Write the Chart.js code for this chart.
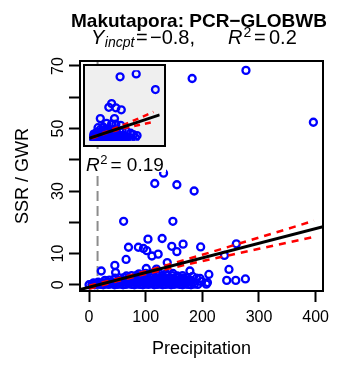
<!DOCTYPE html>
<html>
<head>
<meta charset="utf-8">
<script src="https://cdn.jsdelivr.net/npm/chart.js@4.4.0/dist/chart.umd.min.js"></script>
<style>
  html, body { margin: 0; padding: 0; background: #fff; }
  #wrap { position: relative; width: 337px; height: 365px; }
  #main { position: absolute; left: 0; top: 0; }
  #inset { position: absolute; left: 83px; top: 64px; }
</style>
</head>
<body>
<div id="wrap">
  <canvas id="main" width="337" height="365"></canvas>
  <canvas id="inset" width="83" height="83"></canvas>
</div>
<script>
// --- data ---
const precipitation = [
  182, 277, 396, 131.5, 116, 155, 185.5, 61, 148,
  104, 129, 166, 69.6, 87, 96, 102, 146, 155, 197, 260, 239, 65.4, 138, 122, 111,
  21.5, 45.5, 46.8, 178, 247, 211.5, 196, 209, 243, 259, 276, 101, 119, 167.6, 182.7, 189.8, 198.6, 207,
  0, 5, 10, 15, 20, 25, 30, 35, 40, 45, 50, 55, 60, 65, 70, 75, 80, 85, 90, 95, 100,
  105, 110, 115, 120, 125, 130, 135, 140, 145, 150, 155, 160, 165, 170, 175, 180, 186, 192,
  8, 16, 24, 32, 40, 48, 56, 64, 72, 80, 88, 96, 104, 112, 120, 128, 136, 144, 152, 160, 168, 176, 184,
  28, 36, 44, 52, 60, 68, 76, 84, 92, 100, 108, 116, 124, 132, 140, 148, 156, 164, 172, 180,
  46, 54, 62, 70, 78, 86, 94, 102, 110, 118, 126, 134, 142, 150, 158, 166, 174,
  66, 75, 84, 93, 102, 111, 120, 129, 138, 147, 156, 165,
  88, 100, 112, 124, 136, 148
];
const ssrGwr = [
  66, 68.6, 52, 35.7, 32.4, 32, 30, 20.3, 20.3,
  14.6, 14.8, 13, 12, 12, 11.6, 10.9, 12.3, 10.6, 12.1, 13.1, 9.4, 8.1, 7.1, 9.8, 9.2,
  4.4, 6.2, 3.9, 4.4, 4.9, 3.3, 2, 0.7, 1.4, 1.4, 1.85, 5.2, 5.0, 1.6, 2.65, 2.1, 1.0, 0.2,
  0.0, 0.1, 0.0, 0.2, 0.1, 0.0, 0.2, 0.1, 0.3, 0.0, 0.1, 0.2, 0.0, 0.1, 0.3, 0.1, 0.0, 0.2, 0.1, 0.0, 0.2,
  0.1, 0.3, 0.0, 0.1, 0.2, 0.0, 0.1, 0.2, 0.0, 0.1, 0.3, 0.1, 0.0, 0.2, 0.1, 0.0, 0.2, 0.1,
  0.6, 0.8, 0.7, 0.9, 0.8, 0.7, 0.9, 0.8, 0.6, 0.9, 0.8, 0.7, 0.9, 0.8, 0.7, 0.9, 0.8, 0.6, 0.9, 0.8, 0.7, 0.9, 0.8,
  1.4, 1.5, 1.6, 1.4, 1.5, 1.6, 1.4, 1.5, 1.6, 1.5, 1.4, 1.6, 1.5, 1.4, 1.6, 1.5, 1.4, 1.6, 1.5, 1.4,
  2.1, 2.2, 2.3, 2.2, 2.1, 2.3, 2.2, 2.1, 2.3, 2.2, 2.1, 2.3, 2.2, 2.1, 2.3, 2.2, 2.1,
  2.8, 2.9, 3.0, 2.9, 2.8, 3.0, 2.9, 2.8, 3.0, 2.9, 2.8, 2.9,
  3.5, 3.6, 3.7, 3.6, 3.5, 3.6
];

// regression line and 95% band
const fitX = [-16, 413];
const fitY = [-1.55, 18.6];
const ciX = [0, 50, 100, 150, 200, 250, 300, 350, 397];
const ciUpper = [-0.3, 1.95, 4.35, 6.95, 9.6, 12.35, 15.1, 17.85, 20.5];
const ciLower = [-1.3, 1.15, 3.45, 5.55, 7.6, 9.55, 11.5, 13.45, 15.3];
const cutoffX = 15;

// inset
const insetPrecip = [
  171.6, 269.9, 387.2, 120, 102.9, 145.8, 178.9, 51.2, 137.5, 89, 120, 145.8, 175.3,
  37.2, 68.3, 97.7, 132.3, 184, 209.9, 235.7, 252.8, 275, 11.4, 46, 80.7, 114.8, 149.4,
  3.1, 29, 54.8, 80.7, 106.5, 132.3, 158.2, 184, 209.9,
  0, 20, 40, 60, 80, 100, 120, 140, 160, 180, 200,
  10, 30, 50, 70, 90, 110, 130, 150, 170, 190, 215, 240, 265,
  20, 45, 70, 95, 120, 145, 170, 195,
  30, 60, 90, 120, 150,
  50, 80, 110
];
const insetSsr = [
  64.8, 67.8, 51.5, 36.8, 32.9, 32.4, 30.3, 21.1, 21.1, 16.1, 15.5, 15.2, 14.0,
  11.6, 12.3, 10.2, 9.6, 8.7, 7.9, 5.8, 4.3, 3.4, 4.9, 5.8, 5.8, 4.9, 5.5,
  1.9, 1.9, 1.9, 1.9, 1.9, 1.9, 1.9, 1.9, 1.9,
  0.3, 0.3, 0.3, 0.3, 0.3, 0.3, 0.3, 0.3, 0.3, 0.3, 0.3,
  1.0, 1.0, 1.0, 1.0, 1.0, 1.0, 1.0, 1.0, 1.0, 1.0, 1.0, 1.0, 1.0,
  3.5, 3.5, 3.5, 3.5, 3.5, 3.5, 3.5, 3.5,
  7.0, 7.0, 7.0, 7.0, 7.0,
  9.5, 9.5, 9.5
];
const insetFitX = [-16, 413];
const insetFitY = [0.6, 25.0];
const insetCiX = [0, 100, 200, 300, 375];
const insetCiUpper = [1.6, 8.3, 15.0, 22.5, 28.0];
const insetCiLower = [0.6, 6.7, 11.2, 15.0, 17.6];

const xTickValues = [0, 100, 200, 300, 400];
const yTickValues = [0, 10, 20, 30, 40, 50, 60, 70];
const yTickLabels = ['0', '10', '', '30', '', '50', '', '70'];

const FONT = '"Liberation Sans", Arial, Helvetica, sans-serif';

function pts(xs, ys) {
  return xs.map((x, i) => ({ x: x, y: ys[i] }));
}

// text pieces either follow each other or sit at a given x
function drawPieces(ctx, pieces, startX, baseY) {
  let x = startX;
  pieces.forEach(p => {
    ctx.font = p.font;
    if (p.x !== undefined) x = p.x;
    x += (p.before || 0);
    ctx.fillText(p.text, x, baseY + (p.dy || 0));
    x += ctx.measureText(p.text).width;
  });
}

const annotations = {
  id: 'annotations',
  afterDatasetsDraw(chart) {
    const { ctx, chartArea: a } = chart;
    ctx.save();
    // legend background hides the cutoff line
    ctx.fillStyle = '#fff';
    ctx.fillRect(84, 149, 82, 23);
    ctx.fillStyle = '#000';
    ctx.textAlign = 'left';
    ctx.textBaseline = 'alphabetic';
    drawPieces(ctx, [
      { text: 'R', font: 'italic 19px ' + FONT },
      { text: '2', font: '13px ' + FONT, dy: -6.5, before: 0.5 },
      { text: '= 0.19', font: '19px ' + FONT, before: 3 }
    ], 86, 170.5);
    // box
    ctx.strokeStyle = '#000';
    ctx.lineWidth = 2;
    ctx.strokeRect(a.left, a.top, a.right - a.left, a.bottom - a.top);
    ctx.restore();
  },
  afterDraw(chart) {
    const ctx = chart.ctx;
    ctx.save();
    ctx.fillStyle = '#000';
    ctx.textAlign = 'center';
    ctx.textBaseline = 'alphabetic';
    ctx.font = 'bold 19px ' + FONT;
    ctx.fillText('Makutapora: PCR\u2212GLOBWB', 199, 26.5);
    ctx.textAlign = 'left';
    drawPieces(ctx, [
      { text: 'Y', font: 'italic 20px ' + FONT, x: 91 },
      { text: 'incpt', font: 'italic 14px ' + FONT, dy: 3, before: 0.5 },
      { text: '=', font: '20px ' + FONT, x: 136 },
      { text: '\u22120.8,', font: '20px ' + FONT, x: 150 },
      { text: 'R', font: 'italic 20px ' + FONT, x: 228 },
      { text: '2', font: '14px ' + FONT, dy: -7, before: 1 },
      { text: '=', font: '20px ' + FONT, x: 254 },
      { text: '0.2', font: '20px ' + FONT, x: 269 }
    ], 91, 44);
    ctx.restore();
  }
};

const tickFont = { family: FONT, size: 16 };

new Chart(document.getElementById('main'), {
  type: 'scatter',
  data: {
    datasets: [
      {
        label: 'fit',
        data: pts(fitX, fitY),
        showLine: true,
        borderColor: '#000',
        borderWidth: 3,
        pointRadius: 0,
        order: 1
      },
      {
        label: 'upper',
        data: pts(ciX, ciUpper),
        showLine: true,
        borderColor: '#ff0000',
        borderWidth: 2.5,
        borderDash: [7, 6],
        pointRadius: 0,
        order: 2
      },
      {
        label: 'lower',
        data: pts(ciX, ciLower),
        showLine: true,
        borderColor: '#ff0000',
        borderWidth: 2.5,
        borderDash: [7, 6],
        pointRadius: 0,
        order: 2
      },
      {
        label: 'obs',
        data: pts(precipitation, ssrGwr),
        pointStyle: 'circle',
        pointRadius: 3.5,
        pointBorderWidth: 2.3,
        borderColor: '#0000ff',
        backgroundColor: 'rgba(0,0,0,0)',
        order: 3
      },
      {
        label: 'cutoff',
        data: [{ x: cutoffX, y: -2 }, { x: cutoffX, y: 71.6 }],
        showLine: true,
        borderColor: '#8c8c8c',
        borderWidth: 2,
        borderDash: [10, 5],
        pointRadius: 0,
        order: 4
      }
    ]
  },
  options: {
    responsive: false,
    animation: false,
    layout: { padding: { left: 0, top: 61, right: 14, bottom: 0 } },
    plugins: {
      legend: { display: false },
      tooltip: { enabled: false }
    },
    scales: {
      x: {
        type: 'linear',
        min: -16,
        max: 413,
        afterBuildTicks: s => { s.ticks = xTickValues.map(v => ({ value: v })); },
        afterFit: s => { s.height = 74; },
        border: { display: false },
        grid: { drawOnChartArea: false, drawTicks: true, tickLength: 11, tickWidth: 2, tickColor: '#000' },
        ticks: { color: '#000', font: tickFont, padding: 6, maxRotation: 0, autoSkip: false },
        title: { display: true, text: 'Precipitation', color: '#000', font: { family: FONT, size: 18 }, padding: { top: 0, bottom: 5 } }
      },
      y: {
        type: 'linear',
        min: -2,
        max: 71.6,
        afterBuildTicks: s => { s.ticks = yTickValues.map(v => ({ value: v })); },
        afterFit: s => { s.width = 80; },
        border: { display: false },
        grid: { drawOnChartArea: false, drawTicks: true, tickLength: 11, tickWidth: 2, tickColor: '#000' },
        ticks: {
          color: '#000', font: tickFont, padding: 2, autoSkip: false,
          minRotation: 90, maxRotation: 90, crossAlign: 'center',
          callback: (v, i) => yTickLabels[i]
        },
        title: { display: true, text: 'SSR / GWR', color: '#000', font: { family: FONT, size: 18 }, padding: { top: 12, bottom: 0 } }
      }
    }
  },
  plugins: [annotations]
});

// inset panel
const insetFrame = {
  id: 'insetFrame',
  beforeDraw(chart) {
    const ctx = chart.ctx;
    ctx.save();
    ctx.fillStyle = '#efefef';
    ctx.fillRect(0, 0, chart.width, chart.height);
    ctx.restore();
  },
  afterDraw(chart) {
    const ctx = chart.ctx;
    ctx.save();
    ctx.strokeStyle = '#000';
    ctx.lineWidth = 2;
    ctx.strokeRect(1, 1, chart.width - 2, chart.height - 2);
    ctx.restore();
  }
};

new Chart(document.getElementById('inset'), {
  type: 'scatter',
  data: {
    datasets: [
      { data: pts(insetFitX, insetFitY), showLine: true, borderColor: '#000', borderWidth: 3, pointRadius: 0, order: 1 },
      { data: pts(insetCiX, insetCiUpper), showLine: true, borderColor: '#ff0000', borderWidth: 2.5, borderDash: [6, 5], pointRadius: 0, order: 2 },
      { data: pts(insetCiX, insetCiLower), showLine: true, borderColor: '#ff0000', borderWidth: 2.5, borderDash: [6, 5], pointRadius: 0, order: 2 },
      {
        data: pts(insetPrecip, insetSsr),
        pointStyle: 'circle', pointRadius: 3.5, pointBorderWidth: 2.3,
        borderColor: '#0000ff', backgroundColor: 'rgba(0,0,0,0)', order: 3
      }
    ]
  },
  options: {
    responsive: false,
    animation: false,
    layout: { padding: 0 },
    plugins: { legend: { display: false }, tooltip: { enabled: false } },
    scales: {
      x: { type: 'linear', display: false, min: -16, max: 413 },
      y: { type: 'linear', display: false, min: -2, max: 71.6 }
    }
  },
  plugins: [insetFrame]
});
</script>
</body>
</html>
